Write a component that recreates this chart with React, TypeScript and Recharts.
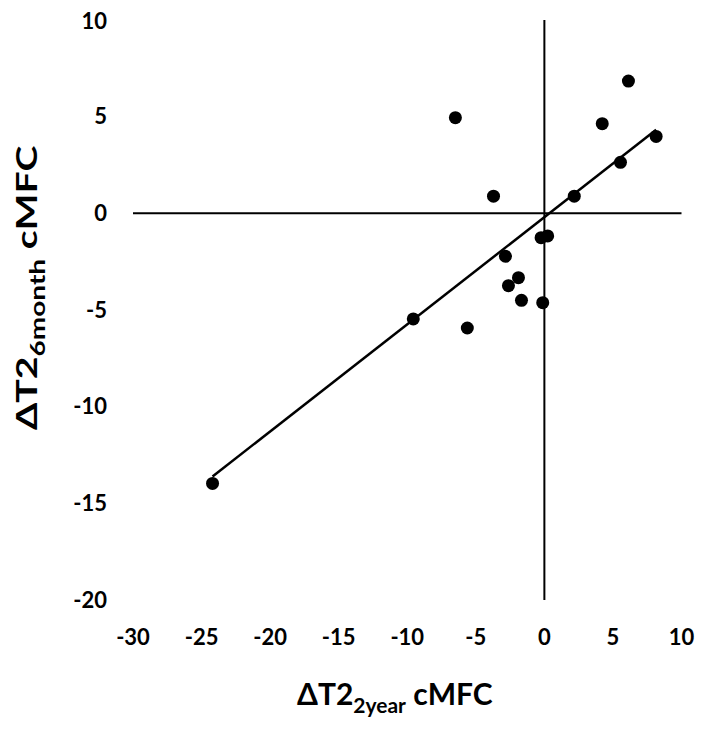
import { ScatterChart, Scatter, XAxis, YAxis, ReferenceLine } from 'recharts';

// values
const xValues = [
  6.13, -6.49, 4.22, 8.15, 5.55, -3.71, 2.18, -0.24, 0.24, -2.84, -1.89, -2.62, -1.67, -0.12, -9.56,
  -5.62, -24.2,
];
const yValues = [
  6.84, 4.95, 4.64, 3.98, 2.64, 0.89, 0.89, -1.26, -1.17, -2.22, -3.33, -3.74, -4.5, -4.62, -5.46,
  -5.93, -13.97,
];
const xTicks = [-30, -25, -20, -15, -10, -5, 0, 5, 10];
const yTicks = [-20, -15, -10, -5, 0, 5, 10];

const points = xValues.map((x, i) => ({ x, y: yValues[i] }));

// linear least-squares fit, drawn over the data range (like an Excel trendline)
function fitLine() {
  const n = xValues.length;
  const mx = xValues.reduce((a, b) => a + b, 0) / n;
  const my = yValues.reduce((a, b) => a + b, 0) / n;
  let sxy = 0;
  let sxx = 0;
  xValues.forEach((x, i) => {
    sxy += (x - mx) * (yValues[i] - my);
    sxx += (x - mx) * (x - mx);
  });
  const slope = sxy / sxx;
  const icpt = my - slope * mx;
  const lo = Math.min(...xValues);
  const hi = Math.max(...xValues);
  return [
    { x: lo, y: icpt + slope * lo },
    { x: hi, y: icpt + slope * hi },
  ];
}
const trend = fitLine();

const FONT = 'Lato, "Liberation Sans", sans-serif';
const tickStyle = { fill: '#000', fontSize: 22, fontWeight: 700, fontFamily: FONT };

const Dot = (props: any) => <circle cx={props.cx} cy={props.cy} r={6.5} fill="#000" />;

export default function App() {
  return (
    <div style={{ position: 'relative', width: 700, height: 721 }}>
      <ScatterChart width={700} height={721} margin={{ top: 12, right: 26.5, left: 65, bottom: 89 }}>
        <XAxis
          type="number"
          dataKey="x"
          domain={[-30, 10]}
          ticks={xTicks}
          axisLine={false}
          tickLine={false}
          tickSize={0}
          tickMargin={29}
          height={40}
          tick={tickStyle}
          allowDataOverflow
        />
        <YAxis
          type="number"
          dataKey="y"
          domain={[-20, 10]}
          ticks={yTicks}
          axisLine={false}
          tickLine={false}
          tickSize={0}
          tickMargin={26}
          width={60}
          tick={tickStyle}
          allowDataOverflow
        />
        <ReferenceLine x={0} stroke="#000" strokeWidth={2} />
        <ReferenceLine y={0} stroke="#000" strokeWidth={2} />
        <Scatter
          data={trend}
          line={{ stroke: '#000', strokeWidth: 2.5 }}
          shape={() => <g />}
          isAnimationActive={false}
        />
        <Scatter data={points} shape={Dot} isAnimationActive={false} />
      </ScatterChart>
      <svg
        width={700}
        height={721}
        style={{ position: 'absolute', left: 0, top: 0, pointerEvents: 'none' }}
        fontFamily={FONT}
        fontWeight={700}
      >
        <text x={289} y={697} fontSize={30} fill="#000">
          ΔT2
          <tspan fontSize={21} dy={8}>
            2year
          </tspan>
          <tspan dy={-8}> cMFC</tspan>
        </text>
        <text transform="translate(29, 422) rotate(-90) scale(1.4, 1)" x={0} y={0} fontSize={28} fill="#000">
          ΔT2
          <tspan fontSize={20} dy={8}>
            6month
          </tspan>
          <tspan dy={-8}> cMFC</tspan>
        </text>
      </svg>
    </div>
  );
}
